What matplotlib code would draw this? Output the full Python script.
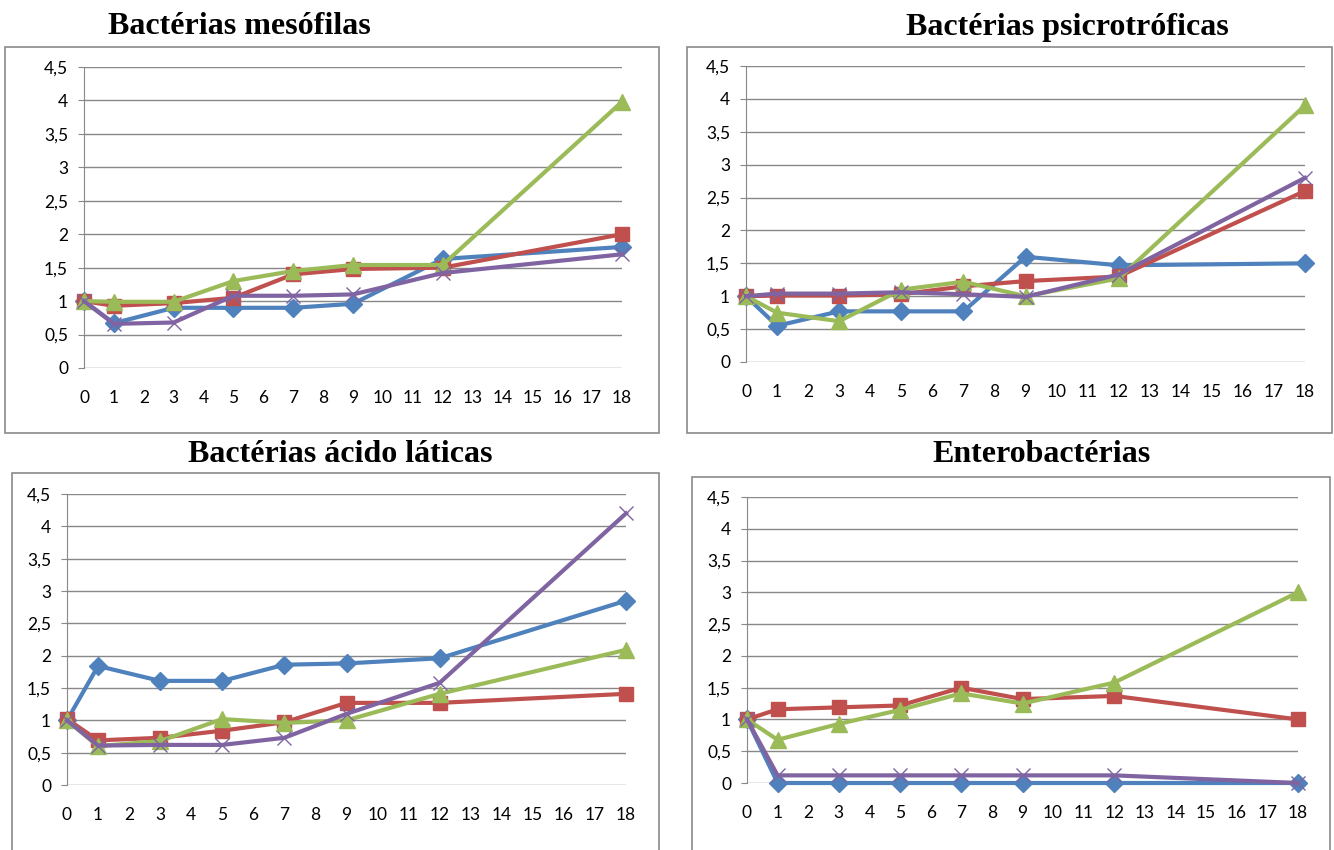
#!/usr/bin/env python3
"""Plot microbial counts over storage days for four bacterial groups."""

import matplotlib
matplotlib.use('Agg')
import matplotlib.pyplot as plt
from matplotlib.patches import Rectangle

# storage days where samples were taken, and the category axis
days = [0, 1, 3, 5, 7, 9, 12, 18]
x_ticks = list(range(0, 19))
y_ticks = [0, 0.5, 1, 1.5, 2, 2.5, 3, 3.5, 4, 4.5]
y_tick_labels = ['0', '0,5', '1', '1,5', '2', '2,5', '3', '3,5', '4', '4,5']

titles = ['Bactérias mesófilas', 'Bactérias psicrotróficas',
          'Bactérias ácido láticas', 'Enterobactérias']

# mesófilas
meso_t1 = [1.0, 0.67, 0.90, 0.90, 0.90, 0.96, 1.63, 1.81]
meso_t2 = [1.0, 0.93, 0.97, 1.05, 1.40, 1.48, 1.50, 2.00]
meso_t3 = [1.0, 0.99, 0.99, 1.30, 1.45, 1.54, 1.54, 3.98]
meso_t4 = [1.0, 0.66, 0.68, 1.08, 1.08, 1.10, 1.42, 1.70]

# psicrotróficas
psic_t1 = [1.0, 0.55, 0.77, 0.77, 0.77, 1.60, 1.47, 1.50]
psic_t2 = [1.0, 1.01, 1.01, 1.03, 1.15, 1.23, 1.30, 2.60]
psic_t3 = [1.0, 0.75, 0.62, 1.10, 1.22, 1.00, 1.27, 3.90]
psic_t4 = [1.0, 1.04, 1.04, 1.06, 1.03, 0.99, 1.33, 2.80]

# ácido láticas
lat_t1 = [1.0, 1.84, 1.61, 1.61, 1.86, 1.88, 1.96, 2.85]
lat_t2 = [1.02, 0.69, 0.73, 0.84, 0.97, 1.27, 1.27, 1.41]
lat_t3 = [1.0, 0.60, 0.68, 1.02, 0.96, 1.00, 1.41, 2.09]
lat_t4 = [1.0, 0.61, 0.62, 0.62, 0.73, 1.10, 1.58, 4.20]

# enterobactérias
ent_t1 = [1.0, 0.0, 0.0, 0.0, 0.0, 0.0, 0.0, 0.0]
ent_t2 = [1.0, 1.16, 1.19, 1.22, 1.50, 1.32, 1.37, 1.00]
ent_t3 = [1.0, 0.68, 0.93, 1.15, 1.41, 1.25, 1.58, 3.00]
ent_t4 = [1.0, 0.12, 0.12, 0.12, 0.12, 0.12, 0.12, 0.0]

panels_data = [
    [meso_t1, meso_t2, meso_t3, meso_t4],
    [psic_t1, psic_t2, psic_t3, psic_t4],
    [lat_t1, lat_t2, lat_t3, lat_t4],
    [ent_t1, ent_t2, ent_t3, ent_t4],
]

W, H = 1334, 850

# Excel 2007 default series styles
STYLES = [
    dict(color='#4F81BD', marker='D', markersize=9),
    dict(color='#C0504D', marker='s', markersize=10),
    dict(color='#9BBB59', marker='^', markersize=11),
    dict(color='#8064A2', marker='x', markersize=10, markeredgewidth=1.0),
]

# pixel layout: (plot box l, r, top, bottom), (frame l, r, top, bottom), title centre
LAYOUT = [
    ((84, 622, 67, 368), (5, 659, 47, 433), (239, 27)),
    ((746, 1305, 66, 362), (687, 1332, 47, 433), (1067, 27)),
    ((67, 626, 494, 785), (12, 659, 473, 852), (340, 455)),
    ((747, 1298, 497, 783), (692, 1330, 477, 852), (1042, 455)),
]

GRID = '#888888'


def fig_rect(l, r, t, b):
    """Convert pixel box to figure coordinates [left, bottom, width, height]."""
    return [l / W, 1 - b / H, (r - l) / W, (b - t) / H]


def draw_panel(fig, series, title, layout):
    """Draw one framed chart with its title."""
    (pl, pr, pt, pb), (fl, fr, ft, fb), (tx, ty) = layout

    fx, fy, fw, fh = fig_rect(fl, fr, ft, fb)
    fig.patches.append(Rectangle((fx, fy), fw, fh, transform=fig.transFigure,
                                 fill=False, edgecolor='#8a8a8a', linewidth=1.2))
    fig.text(tx / W, 1 - ty / H, title, ha='center', va='center',
             fontsize=23, fontweight='bold', family='Liberation Serif')

    ax = fig.add_axes(fig_rect(pl, pr, pt, pb))
    for vals, st in zip(series, STYLES):
        ax.plot(days, vals, linewidth=3.0, clip_on=False, zorder=3,
                markeredgecolor=st['color'], **st)

    ax.set_xlim(0, 18)
    ax.set_ylim(0, 4.5)
    ax.set_xticks(x_ticks)
    ax.set_yticks(y_ticks)
    ax.set_yticklabels(y_tick_labels)
    ax.grid(axis='y', color=GRID, linewidth=1.0)
    ax.set_axisbelow(True)
    for side in ['top', 'right', 'bottom']:
        ax.spines[side].set_visible(False)
    ax.spines['left'].set_color(GRID)
    ax.tick_params(axis='y', length=4.5, color=GRID, labelsize=12.5, pad=7)
    ax.tick_params(axis='x', length=0, labelsize=12.5, pad=16)
    for lab in ax.get_xticklabels() + ax.get_yticklabels():
        lab.set_family('Lato')
    return ax


def main():
    fig = plt.figure(figsize=(W / 100, H / 100), dpi=100)
    fig.patch.set_facecolor('white')
    for series, title, layout in zip(panels_data, titles, LAYOUT):
        draw_panel(fig, series, title, layout)
    fig.savefig('out.png', dpi=100)
    plt.close(fig)


if __name__ == '__main__':
    main()
